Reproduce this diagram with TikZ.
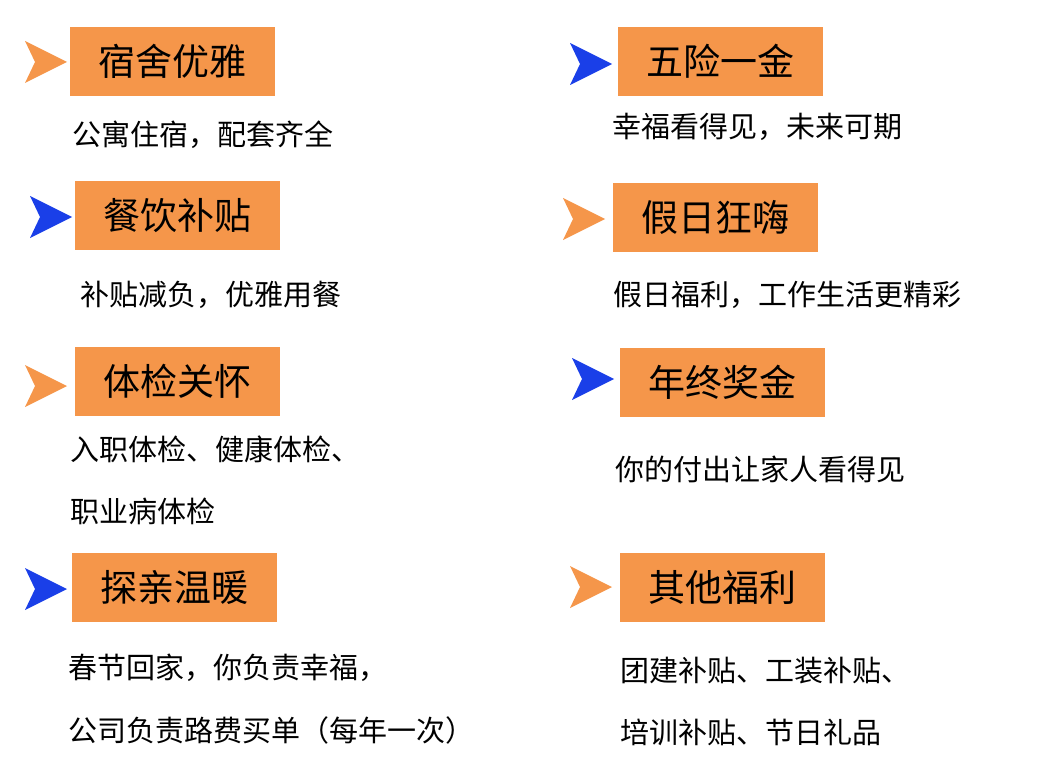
\documentclass[tikz,border=0pt]{standalone}
\usepackage{fontspec}
\newfontfamily\cjk{Noto Sans CJK SC}
\usetikzlibrary{positioning}
\definecolor{boxorange}{HTML}{F5964A}
\definecolor{arrowblue}{HTML}{1A3FE8}
\newcommand{\chevron}[3]{\fill[#3] (#1,#2) -- ++(42,21) -- ++(-42,21) -- ++(10,-21) -- cycle;}

\begin{document}
\begin{tikzpicture}[x=1pt,y=-1pt,
title_box/.style={rectangle, fill=boxorange, minimum width=205pt, minimum height=69pt, anchor=north west, inner sep=0pt, font=\cjk\fontsize{37}{40}\selectfont},
body_text/.style={anchor=west, inner sep=0pt, font=\cjk\fontsize{29}{34}\selectfont}
]
\useasboundingbox (0,0) rectangle (1046,778);

% chevrons
\chevron{25}{41}{boxorange}
\chevron{30}{196}{arrowblue}
\chevron{25}{365}{boxorange}
\chevron{25}{568}{arrowblue}
\chevron{570}{43}{arrowblue}
\chevron{563}{198}{boxorange}
\chevron{572}{358}{arrowblue}
\chevron{570}{566}{boxorange}

% left column
\node[title_box](dorm) at (70,27) {宿舍优雅};
\node[body_text](dorm_text) at (72,135) {公寓住宿，配套齐全};
\node[title_box](meal) at (75,181) {餐饮补贴};
\node[body_text](meal_text) at (80,295) {补贴减负，优雅用餐};
\node[title_box](check) at (75,347) {体检关怀};
\node[body_text](check_text_1) at (70,449) {入职体检、健康体检、};
\node[body_text](check_text_2) at (70,511) {职业病体检};
\node[title_box](visit) at (72,553) {探亲温暖};
\node[body_text](visit_text_1) at (68,668) {春节回家，你负责幸福，};
\node[body_text](visit_text_2) at (68,730) {公司负责路费买单（每年一次）};

% right column
\node[title_box](insure) at (618,27) {五险一金};
\node[body_text](insure_text) at (612,127) {幸福看得见，未来可期};
\node[title_box](holiday) at (613,183) {假日狂嗨};
\node[body_text](holiday_text) at (613,295) {假日福利，工作生活更精彩};
\node[title_box](bonus) at (620,348) {年终奖金};
\node[body_text](bonus_text) at (615,469) {你的付出让家人看得见};
\node[title_box](other) at (620,553) {其他福利};
\node[body_text](other_text_1) at (620,671) {团建补贴、工装补贴、};
\node[body_text](other_text_2) at (620,732) {培训补贴、节日礼品};
\end{tikzpicture}
\end{document}
